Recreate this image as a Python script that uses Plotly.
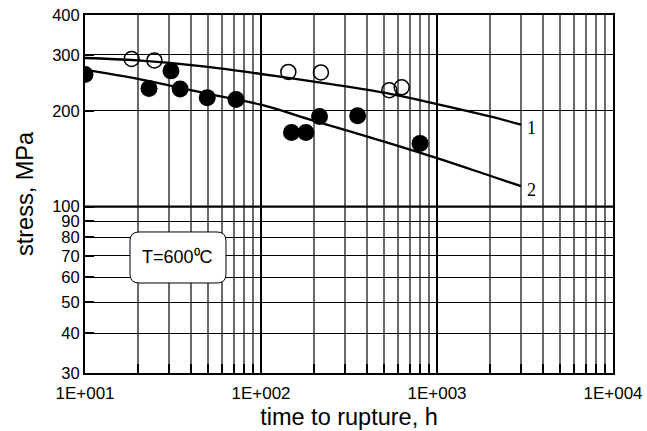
import numpy as np
import plotly.graph_objects as go

# ---- data -------------------------------------------------------------
# measured rupture points: open circles (series 1) and filled circles (series 2)
open_time = [18.4, 24.8, 143, 219, 536, 630]
open_stress = [291, 288, 265, 264, 232, 237]

filled_time = [10.0, 23.1, 30.8, 34.7, 49.5, 72.1, 149, 180, 215, 354, 801]
filled_stress = [260, 235, 267, 234, 220, 217, 171, 171, 192, 193, 158]

# fitted curves 1 and 2
curve_time = [10, 20, 50, 100, 200, 500, 1000, 2000, 3000]
curve1_stress = [293, 288, 275, 261, 247, 228, 210, 192, 181]
curve2_stress = [269, 252, 226, 209, 186, 160, 142, 125, 116]
curve_labels = ["1", "2"]

# axis ticks
x_major = [10, 100, 1000, 10000]
x_major_text = ["1E+001", "1E+002", "1E+003", "1E+004"]
y_ticks = [30, 40, 50, 60, 70, 80, 90, 100, 200, 300, 400]
y_heavy = 100
box_text = "T=600⁰C"

# ---- figure -----------------------------------------------------------
FONT = "Arial, Liberation Sans, sans-serif"
SERIF = "Times New Roman, Liberation Serif, serif"

x_minor = [m * d for d in x_major[:-1] for m in range(2, 10)]

fig = go.Figure()

# heavy horizontal grid line at 100 MPa
fig.add_trace(go.Scatter(
    x=[x_major[0], x_major[-1]], y=[y_heavy, y_heavy], mode="lines",
    line=dict(color="black", width=2.2), hoverinfo="skip", showlegend=False,
))

for ys in (curve1_stress, curve2_stress):
    fig.add_trace(go.Scatter(
        x=curve_time, y=ys, mode="lines", line=dict(color="black", width=2.3, shape="spline"),
        showlegend=False, hoverinfo="skip",
    ))

fig.add_trace(go.Scatter(
    x=open_time, y=open_stress, mode="markers", showlegend=False,
    marker=dict(symbol="circle-open", size=15, color="black", line=dict(width=1.5, color="black")),
))
fig.add_trace(go.Scatter(
    x=filled_time, y=filled_stress, mode="markers", showlegend=False,
    marker=dict(symbol="circle", size=17, color="black", line=dict(width=0)),
))

# curve numbers at the ends of the fitted lines
for lab, ys, dy in zip(curve_labels, (curve1_stress, curve2_stress), (-3, -4)):
    fig.add_annotation(
        x=np.log10(curve_time[-1]), y=np.log10(ys[-1]), xref="x", yref="y",
        text=lab, showarrow=False, xanchor="left", yanchor="middle",
        xshift=4, yshift=dy, font=dict(family=SERIF, size=18, color="black"),
    )

# rounded box with the test temperature
x0, x1, y0, y1 = 0.0852, 0.2670, 0.2514, 0.3939
rx, ry = 9 / 528, 9 / 358
path = (
    f"M {x0+rx},{y0} L {x1-rx},{y0} Q {x1},{y0} {x1},{y0+ry} "
    f"L {x1},{y1-ry} Q {x1},{y1} {x1-rx},{y1} "
    f"L {x0+rx},{y1} Q {x0},{y1} {x0},{y1-ry} "
    f"L {x0},{y0+ry} Q {x0},{y0} {x0+rx},{y0} Z"
)
fig.add_shape(type="path", path=path, xref="paper", yref="paper",
              fillcolor="white", line=dict(color="black", width=1), layer="above")
fig.add_annotation(
    x=(x0 + x1) / 2, y=(y0 + y1) / 2, xref="paper", yref="paper",
    xanchor="center", yanchor="middle",
    text=box_text, showarrow=False, font=dict(family=FONT, size=18, color="black"),
)

fig.update_layout(
    width=647, height=431,
    margin=dict(l=85, r=34, t=15, b=58),
    plot_bgcolor="white", paper_bgcolor="white",
    font=dict(family=FONT, color="black"),
    xaxis=dict(
        type="log", range=[1, 4], automargin=False,
        tickmode="array", tickvals=x_major, ticktext=x_major_text,
        tickfont=dict(size=17, family=FONT), ticklabelstandoff=4,
        ticks="", showgrid=True, gridcolor="black", gridwidth=2,
        showline=True, mirror=True, linecolor="black", linewidth=2,
        minor=dict(tickmode="array", tickvals=x_minor, showgrid=True,
                   gridcolor="#6a6a6a", gridwidth=1.6,
                   ticks="inside", ticklen=9, tickwidth=2, tickcolor="black"),
        title=dict(text="time to rupture, h", font=dict(size=23.5, family=FONT), standoff=6),
        zeroline=False,
    ),
    yaxis=dict(
        type="log", range=[np.log10(30), np.log10(400)], automargin=False,
        tickmode="array", tickvals=y_ticks, ticktext=[str(v) for v in y_ticks],
        tickfont=dict(size=16.5, family=FONT),
        ticks="inside", ticklen=9, tickwidth=2, tickcolor="black",
        showgrid=True, gridcolor="black", gridwidth=1.2,
        showline=True, mirror=True, linecolor="black", linewidth=2,
        title=dict(text="stress, MPa", font=dict(size=23.5, family=FONT), standoff=12),
        zeroline=False,
    ),
)

fig.write_html("out.html")
